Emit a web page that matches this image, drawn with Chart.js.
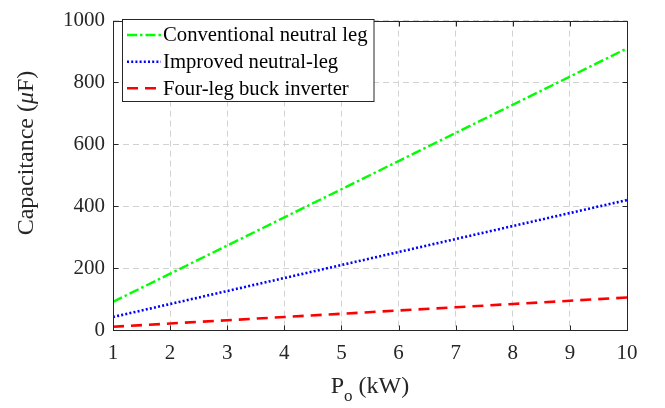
<!DOCTYPE html>
<html>
<head>
<meta charset="utf-8">
<script src="https://cdn.jsdelivr.net/npm/chart.js@4"></script>
<style>
  html, body { margin: 0; padding: 0; background: #ffffff; }
  canvas { display: block; }
</style>
</head>
<body>
<canvas id="cap" width="665" height="408"></canvas>
<script>
// Output power (kW)
const powerKW = [1, 2, 3, 4, 5, 6, 7, 8, 9, 10];
// Required capacitance (uF) for each topology
const conventionalLeg = [91, 182, 273, 364, 455, 546, 637, 728, 819, 910];
const improvedLeg     = [42, 84, 126, 168, 210, 252, 294, 336, 378, 420];
const fourLegBuck     = [10.5, 21, 31.5, 42, 52.5, 63, 73.5, 84, 94.5, 105];
// Axis ticks
const xTicks = [1, 2, 3, 4, 5, 6, 7, 8, 9, 10];
const yTicks = [0, 200, 400, 600, 800, 1000];
const seriesNames = ['Conventional neutral leg', 'Improved neutral-leg', 'Four-leg buck inverter'];

const SERIF = '"Liberation Serif", "Times New Roman", serif';
const styles = [
  { color: '#00ff00', width: 2.4, dash: [10, 3, 2.5, 3] },
  { color: '#0000ff', width: 2.6, dash: [2, 2.2] },
  { color: '#ff0000', width: 2.6, dash: [11, 7] }
];
const seriesData = [conventionalLeg, improvedLeg, fourLegBuck];

const datasets = seriesData.map((vals, i) => ({
  label: seriesNames[i],
  data: powerKW.map((p, k) => ({ x: p, y: vals[k] })),
  borderColor: styles[i].color,
  borderWidth: styles[i].width,
  borderDash: styles[i].dash,
  borderCapStyle: 'butt',
  pointRadius: 0,
  tension: 0,
  fill: false
}));

// Frame, inward ticks, axis titles and legend
const decorations = {
  id: 'decorations',
  afterDraw(chart) {
    const { ctx, chartArea: a, scales } = chart;
    const L = Math.round(a.left) + 0.5, R = Math.round(a.right) + 0.5;
    const T = Math.round(a.top) + 0.5, B = Math.round(a.bottom) + 0.5;
    ctx.save();
    ctx.strokeStyle = '#262626';
    ctx.lineWidth = 1;
    ctx.setLineDash([]);
    ctx.strokeRect(L, T, R - L, B - T);
    const tl = 5;
    ctx.beginPath();
    xTicks.forEach(v => {
      const px = Math.round(scales.x.getPixelForValue(v)) + 0.5;
      ctx.moveTo(px, B); ctx.lineTo(px, B - tl);
      ctx.moveTo(px, T); ctx.lineTo(px, T + tl);
    });
    yTicks.forEach(v => {
      const py = Math.round(scales.y.getPixelForValue(v)) + 0.5;
      ctx.moveTo(L, py); ctx.lineTo(L + tl, py);
      ctx.moveTo(R, py); ctx.lineTo(R - tl, py);
    });
    ctx.stroke();

    // x-axis title: P_o (kW)
    ctx.fillStyle = '#262626';
    ctx.textBaseline = 'alphabetic';
    ctx.textAlign = 'left';
    const big = '24px ' + SERIF, sub = '17px ' + SERIF;
    ctx.font = big; const wP = ctx.measureText('P').width;
    ctx.font = sub; const wo = ctx.measureText('o').width;
    ctx.font = big; const wRest = ctx.measureText(' (kW)').width;
    const cx = (a.left + a.right) / 2;
    let x0 = cx - (wP + wo + wRest) / 2;
    const base = 393;
    ctx.font = big; ctx.fillText('P', x0, base);
    ctx.font = sub; ctx.fillText('o', x0 + wP, base + 8);
    ctx.font = big; ctx.fillText(' (kW)', x0 + wP + wo, base);

    // y-axis title: Capacitance (μF)
    ctx.save();
    ctx.translate(33, 153);
    ctx.rotate(-Math.PI / 2);
    const parts = [
      { t: 'Capacitance (', f: '24px ' + SERIF },
      { t: '\u03bc', f: 'italic 24px ' + SERIF },
      { t: 'F)', f: '24px ' + SERIF }
    ];
    let total = 0;
    parts.forEach(p => { ctx.font = p.f; p.w = ctx.measureText(p.t).width; total += p.w; });
    let xx = -total / 2;
    parts.forEach(p => { ctx.font = p.f; ctx.fillText(p.t, xx, 0); xx += p.w; });
    ctx.restore();

    // Legend
    const lx = 122.5, ly = 19.5, lw = 251.5, lh = 82;
    ctx.fillStyle = '#ffffff';
    ctx.fillRect(lx, ly, lw, lh);
    ctx.strokeStyle = '#262626';
    ctx.lineWidth = 1;
    ctx.strokeRect(lx, ly, lw, lh);
    const rows = [35, 61.7, 88.3];
    ctx.font = '20.7px ' + SERIF;
    ctx.textBaseline = 'middle';
    seriesNames.forEach((name, i) => {
      const s = styles[i];
      ctx.save();
      ctx.strokeStyle = s.color;
      ctx.lineWidth = s.width;
      ctx.setLineDash(s.dash);
      ctx.lineCap = 'butt';
      ctx.beginPath();
      ctx.moveTo(127, rows[i]);
      ctx.lineTo(161, rows[i]);
      ctx.stroke();
      ctx.restore();
      ctx.fillStyle = '#000000';
      ctx.fillText(name, 163, rows[i] + 1);
    });
    ctx.restore();
  }
};

new Chart(document.getElementById('cap'), {
  type: 'line',
  data: { datasets },
  options: {
    responsive: false,
    animation: false,
    devicePixelRatio: 1,
    layout: { padding: { left: 0, right: 38, top: 10, bottom: 0 } },
    plugins: { legend: { display: false }, tooltip: { enabled: false }, title: { display: false } },
    scales: {
      x: {
        type: 'linear',
        min: 1, max: 10,
        afterFit(s) { s.height = 78; },
        afterBuildTicks(s) { s.ticks = xTicks.map(v => ({ value: v })); },
        grid: { color: '#d2d2d2', lineWidth: 1, drawTicks: false },
        border: { display: false, dash: [6, 4] },
        ticks: { padding: 11, color: '#262626', font: { family: SERIF, size: 21 }, maxRotation: 0,
                 callback: v => String(v) }
      },
      y: {
        type: 'linear',
        min: 0, max: 1000,
        afterFit(s) { s.width = 113; },
        afterBuildTicks(s) { s.ticks = yTicks.map(v => ({ value: v })); },
        grid: { color: '#d2d2d2', lineWidth: 1, drawTicks: false },
        border: { display: false, dash: [6, 4] },
        ticks: { padding: 8, color: '#262626', font: { family: SERIF, size: 21 },
                 callback: v => String(v) }
      }
    }
  },
  plugins: [decorations]
});
</script>
</body>
</html>
